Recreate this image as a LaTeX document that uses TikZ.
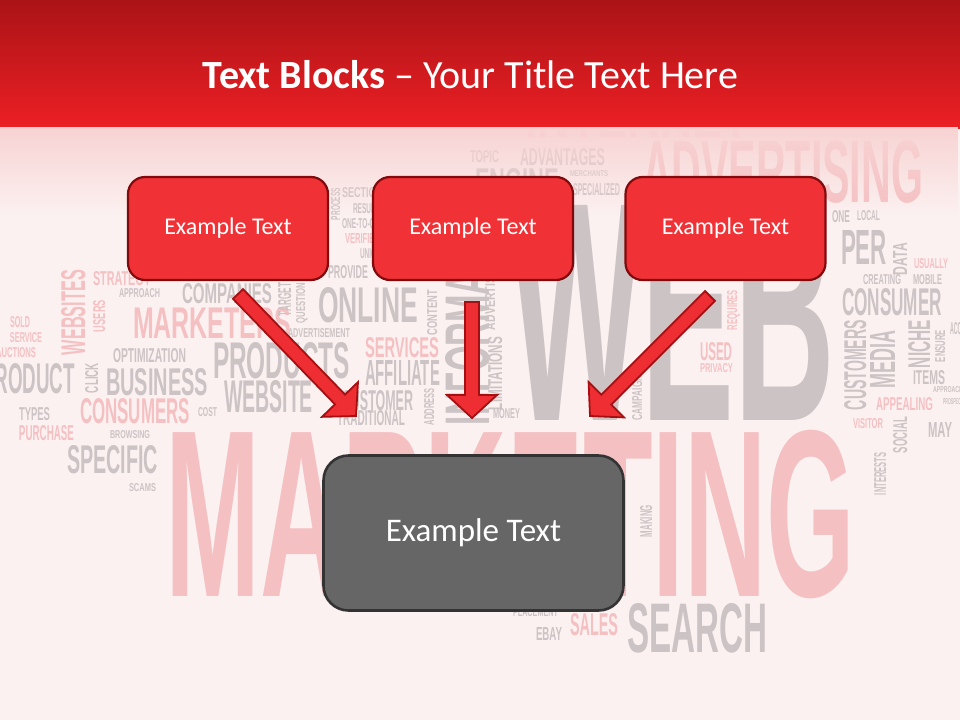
\documentclass[tikz,border=0pt]{standalone}
\usepackage{fontspec}
\usepackage{graphicx}
\setmainfont{Carlito}
\newfontfamily\cloudfont{Liberation Sans}
\usetikzlibrary{calc,fadings}
\definecolor{bgc}{HTML}{FCF1F1}
\definecolor{gw}{HTML}{CCC3C4}
\definecolor{pw}{HTML}{F5C0C2}
\definecolor{hdtop}{HTML}{AB1316}
\definecolor{hdbot}{HTML}{EC2025}
\definecolor{fadec}{HTML}{F8D3D3}
\definecolor{boxred}{HTML}{F03237}
\definecolor{boxdark}{HTML}{820A0C}
\definecolor{arrred}{HTML}{EE2E33}
\definecolor{arrdark}{HTML}{A50F12}
\definecolor{greybox}{HTML}{666666}
\definecolor{greyline}{HTML}{333333}
\tikzfading[name=fadedown, top color=transparent!0, bottom color=transparent!100]
\newcount\wcnt
\newcommand{\cwh}[6]{\global\advance\wcnt by 1
  \node[wordsty,text=#5] (w\the\wcnt) at (#1,#2) {\resizebox{#3pt}{#4pt}{\cloudfont\bfseries #6}};}
\newcommand{\cwv}[6]{\global\advance\wcnt by 1
  \node[wordsty,rotate=90,text=#5] (w\the\wcnt) at (#1,{#2+#4}) {\resizebox{#4pt}{#3pt}{\cloudfont\bfseries #6}};}
\newcommand{\blockarrow}[2]{%
  \coordinate (#1b) at ($(#2)!23pt!(#1)$);
  \draw[arrowsty] ($(#1)!7pt!90:(#2)$) -- ($(#1b)!7pt!90:(#2)$) -- ($(#1b)!25pt!90:(#2)$)
    -- (#2) -- ($(#1b)!25pt!-90:(#2)$) -- ($(#1b)!7pt!-90:(#2)$) -- ($(#1)!7pt!-90:(#2)$) -- cycle;}
\tikzset{
  wordsty/.style={anchor=north west,inner sep=0pt,outer sep=0pt},
  rbox/.style={draw=boxdark,line width=2.2pt,fill=boxred,rounded corners=17pt,
    minimum width=200pt,minimum height=103pt,text=white,font=\fontsize{24}{28}\selectfont},
  gbox/.style={draw=greyline,line width=2.6pt,fill=greybox,rounded corners=25pt,
    minimum width=300pt,minimum height=155pt,text=white,font=\fontsize{33}{38}\selectfont},
  arrowsty/.style={draw=arrdark,fill=arrred,line width=1.8pt,line join=miter}
}
\begin{document}
\begin{tikzpicture}[x=1pt,y=-1pt]
\useasboundingbox (0,0) rectangle (960,720);
\fill[bgc] (0,0) rectangle (960,720);
% word cloud background
\cwh{165}{430}{690}{166}{pw}{MARKETING}
\cwh{510}{205}{325}{215}{gw}{WEB}
\cwh{525}{92}{225}{45}{pw}{INTERNET}
\cwh{642}{140}{281}{62}{pw}{ADVERTISING}
\cwh{93}{271}{58}{14}{pw}{STRATEGY}
\cwh{119}{288}{41}{9}{gw}{APPROACH}
\cwh{182}{283}{90}{20}{gw}{COMPANIES}
\cwh{133}{307}{158}{31}{pw}{MARKETERS}
\cwh{10}{316}{20}{11}{pw}{SOLD}
\cwh{10}{332}{32}{10}{pw}{SERVICE}
\cwh{-4}{347}{40}{10}{pw}{AUCTIONS}
\cwh{113}{348}{73}{14}{gw}{OPTIMIZATION}
\cwh{213}{342}{137}{36}{gw}{PRODUCTS}
\cwh{288}{328}{62}{9}{gw}{ADVERTISEMENT}
\cwh{-18}{363}{93}{30}{gw}{PRODUCT}
\cwh{106}{368}{102}{27}{gw}{BUSINESS}
\cwh{224}{380}{89}{32}{gw}{WEBSITE}
\cwh{80}{398}{110}{25}{pw}{CONSUMERS}
\cwh{198}{407}{19}{9}{gw}{COST}
\cwh{19}{407}{31}{13}{gw}{TYPES}
\cwh{19}{425}{55}{15}{pw}{PURCHASE}
\cwh{110}{430}{40}{8}{gw}{BROWSING}
\cwh{67}{445}{91}{28}{gw}{SPECIFIC}
\cwh{129}{483}{27}{8}{gw}{SCAMS}
\cwh{318}{287}{100}{35}{gw}{ONLINE}
\cwh{365}{337}{74}{20}{pw}{SERVICES}
\cwh{365}{360}{75}{25}{gw}{AFFILIATE}
\cwh{342}{390}{71}{20}{gw}{CUSTOMER}
\cwh{337}{410}{68}{15}{gw}{TRADITIONAL}
\cwh{493}{408}{27}{10}{gw}{MONEY}
\cwh{513}{607}{45}{9}{gw}{PLACEMENT}
\cwh{536}{627}{26}{13}{gw}{EBAY}
\cwh{570}{613}{48}{22}{pw}{SALES}
\cwh{627}{603}{140}{49}{gw}{SEARCH}
\cwh{470}{150}{29}{12}{gw}{TOPIC}
\cwh{520}{148}{85}{17}{gw}{ADVANTAGES}
\cwh{475}{168}{84}{25}{gw}{ENGINE}
\cwh{570}{170}{38}{6}{gw}{MERCHANTS}
\cwh{573}{183}{47}{12}{gw}{SPECIALIZED}
\cwh{342}{187}{40}{10}{gw}{SECTION}
\cwh{353}{203}{30}{10}{gw}{RESULTS}
\cwh{342}{218}{42}{10}{gw}{ONE-TO-ONE}
\cwh{345}{233}{35}{10}{pw}{VERIFIED}
\cwh{360}{248}{25}{10}{gw}{UNIQUE}
\cwh{328}{265}{40}{13}{gw}{PROVIDE}
\cwh{832}{210}{18}{12}{gw}{ONE}
\cwh{857}{210}{23}{10}{gw}{LOCAL}
\cwh{841}{230}{46}{34}{gw}{PER}
\cwh{914}{258}{34}{10}{pw}{USUALLY}
\cwh{863}{274}{38}{10}{gw}{CREATING}
\cwh{913}{274}{29}{10}{gw}{MOBILE}
\cwh{842}{288}{100}{27}{gw}{CONSUMER}
\cwh{913}{370}{32}{14}{gw}{ITEMS}
\cwh{933}{386}{30}{6}{gw}{APPROACH}
\cwh{943}{398}{20}{6}{gw}{PROSPECT}
\cwh{876}{397}{57}{13}{pw}{APPEALING}
\cwh{853}{418}{30}{10}{pw}{VISITOR}
\cwh{928}{422}{24}{15}{gw}{MAY}
\cwh{700}{342}{32}{18}{pw}{USED}
\cwh{700}{363}{33}{9}{pw}{PRIVACY}
\cwh{950}{322}{22}{12}{gw}{ACCESS}
\cwv{61}{270}{24}{85}{pw}{WEBSITES}
\cwv{93}{300}{12}{32}{pw}{USERS}
\cwv{278}{283}{13}{33}{gw}{TARGET}
\cwv{296}{283}{9}{40}{gw}{QUESTION}
\cwv{85}{363}{13}{30}{gw}{CLICK}
\cwv{427}{290}{10}{45}{gw}{CONTENT}
\cwv{424}{388}{10}{37}{gw}{ADDRESS}
\cwv{445}{195}{44}{230}{gw}{INFORMATION}
\cwv{485}{270}{10}{60}{gw}{ADVERTISE}
\cwv{488}{337}{14}{73}{gw}{LIMITATIONS}
\cwv{632}{370}{10}{50}{gw}{CAMPAIGNS}
\cwv{640}{505}{12}{32}{gw}{MAKING}
\cwv{331}{188}{9}{32}{gw}{PROCESS}
\cwv{893}{243}{14}{32}{gw}{DATA}
\cwv{844}{320}{22}{90}{gw}{CUSTOMERS}
\cwv{870}{330}{25}{58}{gw}{MEDIA}
\cwv{908}{320}{22}{48}{gw}{NICHE}
\cwv{935}{330}{10}{32}{gw}{ENSURE}
\cwv{893}{417}{14}{36}{gw}{SOCIAL}
\cwv{874}{453}{12}{42}{gw}{INTERESTS}
\cwv{727}{290}{10}{40}{pw}{REQUIRES}
% header
\shade[top color=hdtop,bottom color=hdbot] (0,0) rectangle (960,128);
\fill[fadec,path fading=fadedown] (0,127.5) rectangle (960,215);
\node[anchor=base,text=white,inner sep=0pt] (title) at (470.5,88)
  {\fontsize{40}{46}\selectfont\textbf{Text Blocks} – Your Title Text Here};
% boxes
\node[rbox] (b1) at (228,228.5) {Example Text};
\node[rbox] (b2) at (473,228.5) {Example Text};
\node[rbox] (b3) at (725.5,228.5) {Example Text};
\node[gbox] (g) at (473.5,533) {Example Text};
% arrows
\coordinate (s1) at (238,294);
\coordinate (e1) at (356,416);
\coordinate (s2) at (472,302);
\coordinate (e2) at (472,418);
\coordinate (s3) at (710,296);
\coordinate (e3) at (590,416);
\blockarrow{s1}{e1}
\blockarrow{s2}{e2}
\blockarrow{s3}{e3}
\end{tikzpicture}
\end{document}
